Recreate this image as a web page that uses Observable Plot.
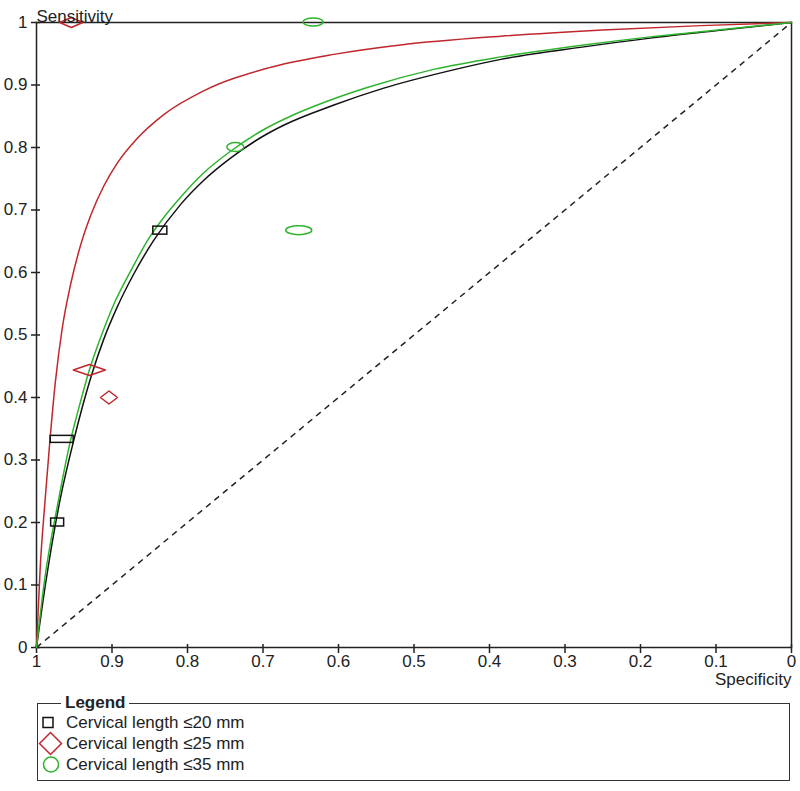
<!DOCTYPE html>
<html>
<head>
<meta charset="utf-8">
<script src="https://cdn.jsdelivr.net/npm/d3@7"></script>
<script src="https://cdn.jsdelivr.net/npm/@observablehq/plot@0.6"></script>
<style>
  html, body { margin: 0; padding: 0; background: #fff; }
  body { font-family: Arial, "Liberation Sans", sans-serif; position: relative; width: 800px; height: 791px; overflow: hidden; }
  #chart { position: absolute; left: 0; top: 0; }
  #legend { position: absolute; left: 37px; top: 694px; width: 753px; height: 87px; box-sizing: border-box;
            border: 1.5px solid #333; margin: 0; padding: 0 0 0 1px; }
  #legend legend { font-weight: bold; font-size: 17px; line-height: 18px; margin-left: 22px; padding: 0 4px; color: #222; }
  .item { display: flex; align-items: center; height: 21px; font-size: 17px; color: #222; white-space: nowrap; }
  .item svg { width: 27px; height: 21px; overflow: visible; flex: none; }
</style>
</head>
<body>
<div id="chart"></div>
<fieldset id="legend"><legend>Legend</legend><div id="items"></div></fieldset>
<script>
// ---------- data ----------
const groups = ["Cervical length ≤20 mm", "Cervical length ≤25 mm", "Cervical length ≤35 mm"];
const groupColors = ["#111111", "#c0272d", "#2db42d"];
const xTicks = [1, 0.9, 0.8, 0.7, 0.6, 0.5, 0.4, 0.3, 0.2, 0.1, 0];
const yTicks = [0, 0.1, 0.2, 0.3, 0.4, 0.5, 0.6, 0.7, 0.8, 0.9, 1];

// SROC curves: [specificity, sensitivity]
const sroc20 = [[1,0],[0.988,0.102],[0.969,0.235],[0.951,0.330],[0.939,0.386],[0.926,0.440],[0.911,0.493],[0.893,0.545],[0.871,0.598],[0.845,0.651],[0.809,0.709],[0.778,0.748],[0.743,0.783],[0.700,0.818],[0.672,0.836],[0.606,0.868],[0.540,0.895],[0.452,0.923],[0.385,0.941],[0.275,0.961],[0.187,0.975],[0.098,0.987],[0,1]];
const sroc25 = [[1,0],[0.995,0.130],[0.989,0.230],[0.983,0.320],[0.975,0.425],[0.966,0.510],[0.955,0.580],[0.942,0.642],[0.928,0.692],[0.911,0.738],[0.893,0.775],[0.867,0.814],[0.831,0.853],[0.778,0.891],[0.694,0.927],[0.606,0.949],[0.518,0.964],[0.385,0.978],[0.250,0.988],[0.120,0.995],[0,1]];
const sroc35 = [[1,0],[0.990,0.102],[0.971,0.235],[0.955,0.331],[0.942,0.392],[0.931,0.440],[0.915,0.496],[0.898,0.548],[0.875,0.603],[0.851,0.655],[0.834,0.684],[0.808,0.722],[0.778,0.760],[0.743,0.794],[0.700,0.828],[0.660,0.852],[0.628,0.868],[0.562,0.896],[0.474,0.925],[0.385,0.945],[0.275,0.964],[0.187,0.977],[0.098,0.988],[0,1]];

// Study estimates
const study20Spec = [0.836, 0.966, 0.972];
const study20Sens = [0.667, 0.333, 0.200];
const study20SpecWeight = [14, 23, 13];
const study20SensWeight = [8, 7, 8];

const study25Spec = [0.954, 0.930, 0.904];
const study25Sens = [1.000, 0.444, 0.400];
const study25SpecWeight = [23, 32, 17];
const study25SensWeight = [10, 11, 13];

const study35Spec = [0.633, 0.736, 0.652];
const study35Sens = [1.000, 0.800, 0.667];
const study35SpecWeight = [20, 17, 26];
const study35SensWeight = [8, 9, 9];

// ---------- build ----------
const W = 800, H = 694, mL = 36, mR = 9, mT = 22, mB = 47;
const kx = 1 / (W - mL - mR), ky = 1 / (H - mT - mB); // weight -> data units

function studies(spec, sens, ws, wn) {
  return spec.map((s, i) => ({spec: s, sens: sens[i], hx: ws[i] * kx / 2, hy: wn[i] * ky / 2}));
}
const s20 = studies(study20Spec, study20Sens, study20SpecWeight, study20SensWeight);
const s25 = studies(study25Spec, study25Sens, study25SpecWeight, study25SensWeight);
const s35 = studies(study35Spec, study35Sens, study35SpecWeight, study35SensWeight);
const diamonds = s25.flatMap((d, i) => [
  {x: d.spec + d.hx, y: d.sens, z: i}, {x: d.spec, y: d.sens + d.hy, z: i},
  {x: d.spec - d.hx, y: d.sens, z: i}, {x: d.spec, y: d.sens - d.hy, z: i},
  {x: d.spec + d.hx, y: d.sens, z: i}
]);
const fmt = d => String(+d.toFixed(1));

const chart = Plot.plot({
  width: W, height: H,
  marginLeft: mL, marginRight: mR, marginTop: mT, marginBottom: mB,
  style: {fontFamily: "Arial, 'Liberation Sans', sans-serif", fontSize: "17px", color: "#222", background: "#fff", overflow: "visible"},
  x: {domain: [1, 0]},
  y: {domain: [0, 1]},
  marks: [
    Plot.axisX({ticks: xTicks, tickFormat: fmt, tickSize: 9, dy: -3, tickPadding: 1, fontSize: 17, label: null, stroke: "#222", strokeWidth: 1.5}),
    Plot.axisY({ticks: yTicks, tickFormat: fmt, tickSize: 9, dx: 4, tickPadding: 4, fontSize: 17, label: null, stroke: "#222", strokeWidth: 1.5}),
    Plot.link([[1, 0, 0, 1]], {x1: d => d[0], y1: d => d[1], x2: d => d[2], y2: d => d[3], stroke: "#222", strokeWidth: 1.5, strokeDasharray: "6,5"}),
    Plot.frame({stroke: "#222", strokeWidth: 1.5}),
    Plot.line(sroc20, {x: d => d[0], y: d => d[1], stroke: groupColors[0], strokeWidth: 1.5, curve: "monotone-x"}),
    Plot.line(sroc25, {x: d => d[0], y: d => d[1], stroke: groupColors[1], strokeWidth: 1.5, curve: "monotone-x"}),
    Plot.line(sroc35, {x: d => d[0], y: d => d[1], stroke: groupColors[2], strokeWidth: 1.5, curve: "monotone-x"}),
    Plot.rect(s20, {x1: d => d.spec + d.hx, x2: d => d.spec - d.hx, y1: d => d.sens - d.hy, y2: d => d.sens + d.hy, fill: "none", stroke: groupColors[0], strokeWidth: 1.5}),
    Plot.line(diamonds, {x: "x", y: "y", z: "z", stroke: groupColors[1], strokeWidth: 1.5, curve: "linear"}),
    Plot.rect(s35, {x1: d => d.spec + d.hx, x2: d => d.spec - d.hx, y1: d => d.sens - d.hy, y2: d => d.sens + d.hy, rx: 100, ry: 100, fill: "none", stroke: groupColors[2], strokeWidth: 1.5}),
    Plot.text(["Sensitivity"], {frameAnchor: "top-left", dy: -13, textAnchor: "start", fontSize: 17, fill: "#222"}),
    Plot.text(["Specificity"], {frameAnchor: "bottom-right", dy: 37, textAnchor: "end", fontSize: 17, fill: "#222"})
  ]
});
document.getElementById("chart").appendChild(chart);

// Legend
const symbols = [
  `<rect x="4" y="5.5" width="10" height="10" fill="none" stroke="${groupColors[0]}" stroke-width="1.5"/>`,
  `<path d="M0.5,10.5 L11.5,-0.5 L22.5,10.5 L11.5,21.5 Z" fill="none" stroke="${groupColors[1]}" stroke-width="1.5"/>`,
  `<circle cx="12" cy="10.5" r="7.5" fill="none" stroke="${groupColors[2]}" stroke-width="1.5"/>`
];
document.getElementById("items").innerHTML = groups.map((g, i) =>
  `<div class="item"><svg viewBox="0 0 27 21">${symbols[i]}</svg><span>${g}</span></div>`).join("");
</script>
</body>
</html>
